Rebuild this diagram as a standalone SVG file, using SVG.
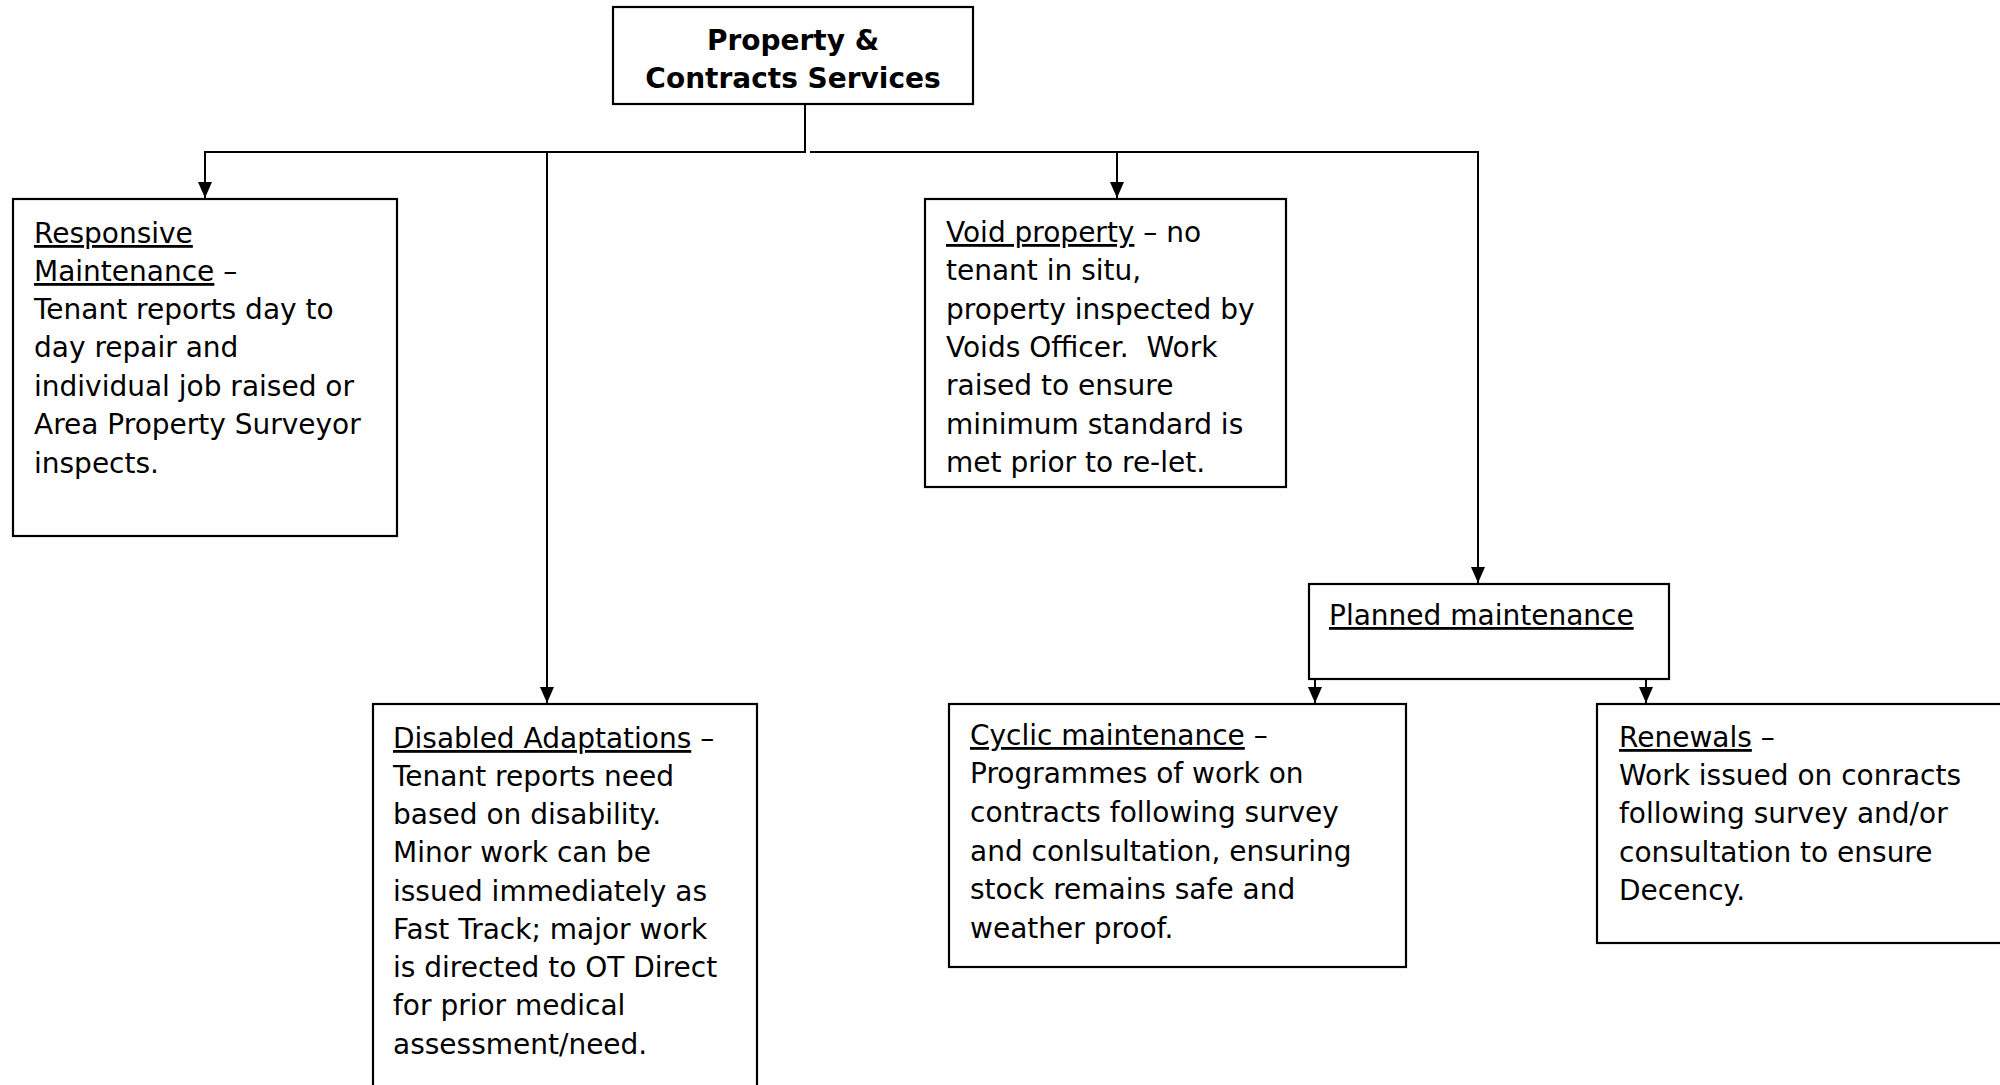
<svg xmlns="http://www.w3.org/2000/svg" width="2000" height="1085" viewBox="0 0 2000 1085">
<style>
.box{fill:#fff;stroke:#000;stroke-width:2.2}
.t{font-family:"DejaVu Sans",Verdana,sans-serif;font-size:28px;fill:#000;white-space:pre}
.b{font-weight:bold}
.u{text-decoration:underline;text-decoration-thickness:2.5px}
.c{fill:none;stroke:#000;stroke-width:2}
</style>
<defs>
<marker id="ah" markerUnits="userSpaceOnUse" markerWidth="16" markerHeight="14" refX="16" refY="7" orient="auto">
<path d="M0,0 L16,7 L0,14 z" fill="#000"/>
</marker>
</defs>
<rect width="2000" height="1085" fill="#fff"/>
<g id="connectors">
<path class="c" d="M805,104 V152 H205 V198" marker-end="url(#ah)"/>
<path class="c" d="M547,152 V703" marker-end="url(#ah)"/>
<path class="c" d="M810,152 H1478 V583" marker-end="url(#ah)"/>
<path class="c" d="M1117,152 V198" marker-end="url(#ah)"/>
<path class="c" d="M1315,679 V703" marker-end="url(#ah)"/>
<path class="c" d="M1646,679 V703" marker-end="url(#ah)"/>
</g>
<g id="top">
<rect class="box" x="613" y="7" width="360" height="97"/>
<text class="t b" x="793" y="50" text-anchor="middle">Property &amp;</text>
<text class="t b" x="793" y="88" text-anchor="middle">Contracts Services</text>
</g>
<g id="responsive">
<rect class="box" x="13" y="199" width="384" height="337"/>
<text class="t" x="34" y="243"><tspan class="u">Responsive</tspan></text>
<text class="t" x="34" y="281"><tspan class="u">Maintenance</tspan> –</text>
<text class="t" x="34" y="319">Tenant reports day to</text>
<text class="t" x="34" y="357">day repair and</text>
<text class="t" x="34" y="396">individual job raised or</text>
<text class="t" x="34" y="434">Area Property Surveyor</text>
<text class="t" x="34" y="473">inspects.</text>
</g>
<g id="disabled">
<rect class="box" x="373" y="704" width="384" height="400"/>
<text class="t" x="393" y="748"><tspan class="u">Disabled Adaptations</tspan> –</text>
<text class="t" x="393" y="786">Tenant reports need</text>
<text class="t" x="393" y="824">based on disability.</text>
<text class="t" x="393" y="862">Minor work can be</text>
<text class="t" x="393" y="901">issued immediately as</text>
<text class="t" x="393" y="939">Fast Track; major work</text>
<text class="t" x="393" y="977">is directed to OT Direct</text>
<text class="t" x="393" y="1015">for prior medical</text>
<text class="t" x="393" y="1054">assessment/need.</text>
</g>
<g id="void">
<rect class="box" x="925" y="199" width="361" height="288"/>
<text class="t" x="946" y="242"><tspan class="u">Void property</tspan> – no</text>
<text class="t" x="946" y="280">tenant in situ,</text>
<text class="t" x="946" y="319">property inspected by</text>
<text class="t" x="946" y="357">Voids Officer.  Work</text>
<text class="t" x="946" y="395">raised to ensure</text>
<text class="t" x="946" y="434">minimum standard is</text>
<text class="t" x="946" y="472">met prior to re-let.</text>
</g>
<g id="planned">
<rect class="box" x="1309" y="584" width="360" height="95"/>
<text class="t" x="1329" y="625"><tspan class="u">Planned maintenance</tspan></text>
</g>
<g id="cyclic">
<rect class="box" x="949" y="704" width="457" height="263"/>
<text class="t" x="970" y="745"><tspan class="u">Cyclic maintenance</tspan> –</text>
<text class="t" x="970" y="783">Programmes of work on</text>
<text class="t" x="970" y="822">contracts following survey</text>
<text class="t" x="970" y="861">and conlsultation, ensuring</text>
<text class="t" x="970" y="899">stock remains safe and</text>
<text class="t" x="970" y="938">weather proof.</text>
</g>
<g id="renewals">
<rect class="box" x="1597" y="704" width="420" height="239"/>
<text class="t" x="1619" y="747"><tspan class="u">Renewals</tspan> –</text>
<text class="t" x="1619" y="785">Work issued on conracts</text>
<text class="t" x="1619" y="823">following survey and/or</text>
<text class="t" x="1619" y="862">consultation to ensure</text>
<text class="t" x="1619" y="900">Decency.</text>
</g>
</svg>
